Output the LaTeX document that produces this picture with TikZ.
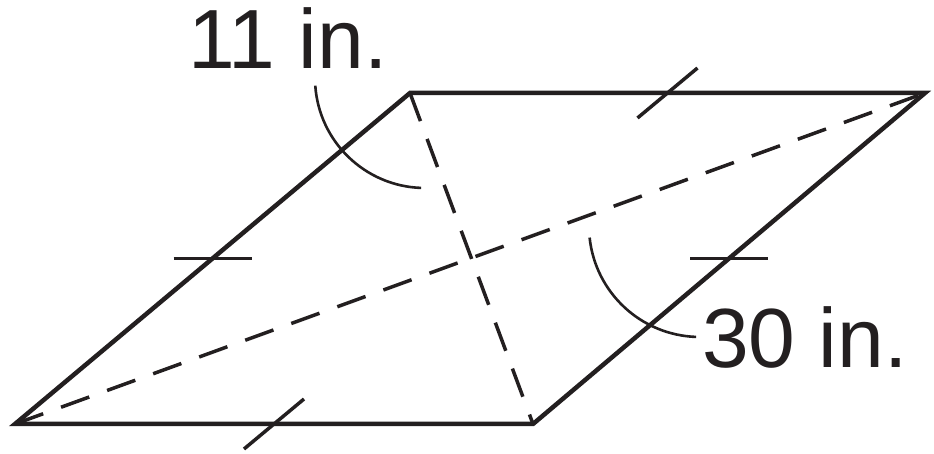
\documentclass[tikz,border=0pt]{standalone}
\usepackage{fontspec}
\setmainfont{Liberation Sans}
\usetikzlibrary{calc}
\definecolor{inkblack}{HTML}{231F20}

\begin{document}
\begin{tikzpicture}[x=1pt, y=1pt,
  side/.style={line width=4.5pt, line join=miter, draw=inkblack},
  diag/.style={line width=3.5pt, dash pattern=on 30pt off 19pt, draw=inkblack},
  hashmark/.style={line width=3.5pt, draw=inkblack},
  leader/.style={line width=2.6pt, draw=inkblack},
  lbl/.style={font=\fontsize{84}{84}\selectfont, text=inkblack, inner sep=0pt, anchor=base west}]
  \useasboundingbox (0,0) rectangle (934,454);

  % Vertices
  \coordinate (bl) at (15,30);
  \coordinate (br) at (533,30);
  \coordinate (tr) at (925,361);
  \coordinate (tl) at (410,361);

  % Diagonals
  \draw[diag] (bl) -- (tr);
  \draw[diag] (tl) -- (br);

  % Sides
  \draw[side] (bl) -- (br) -- (tr) -- (tl) -- cycle;

  % Congruence marks
  \coordinate (u) at (30,25);
  \coordinate (h) at (39,0);
  \draw[hashmark] ($(bl)!0.5!(br)-(u)$) -- ($(bl)!0.5!(br)+(u)$);
  \draw[hashmark] ($(tl)!0.5!(tr)-(u)$) -- ($(tl)!0.5!(tr)+(u)$);
  \draw[hashmark] ($(bl)!0.5!(tl)-(h)$) -- ($(bl)!0.5!(tl)+(h)$);
  \draw[hashmark] ($(br)!0.5!(tr)-(h)$) -- ($(br)!0.5!(tr)+(h)$);

  % Labels
  \node[lbl] (short) at (188,385) {11 in.};
  \node[lbl] (long) at (702,86) {30 in.};

  % Leader arcs
  \coordinate (ca) at (425,376);
  \coordinate (cb) at (700,228);
  \draw[leader] ($(ca)+(184:110)$) arc[start angle=184, end angle=268, radius=110];
  \draw[leader] ($(cb)+(186:111)$) arc[start angle=186, end angle=268, radius=111];
\end{tikzpicture}
\end{document}
